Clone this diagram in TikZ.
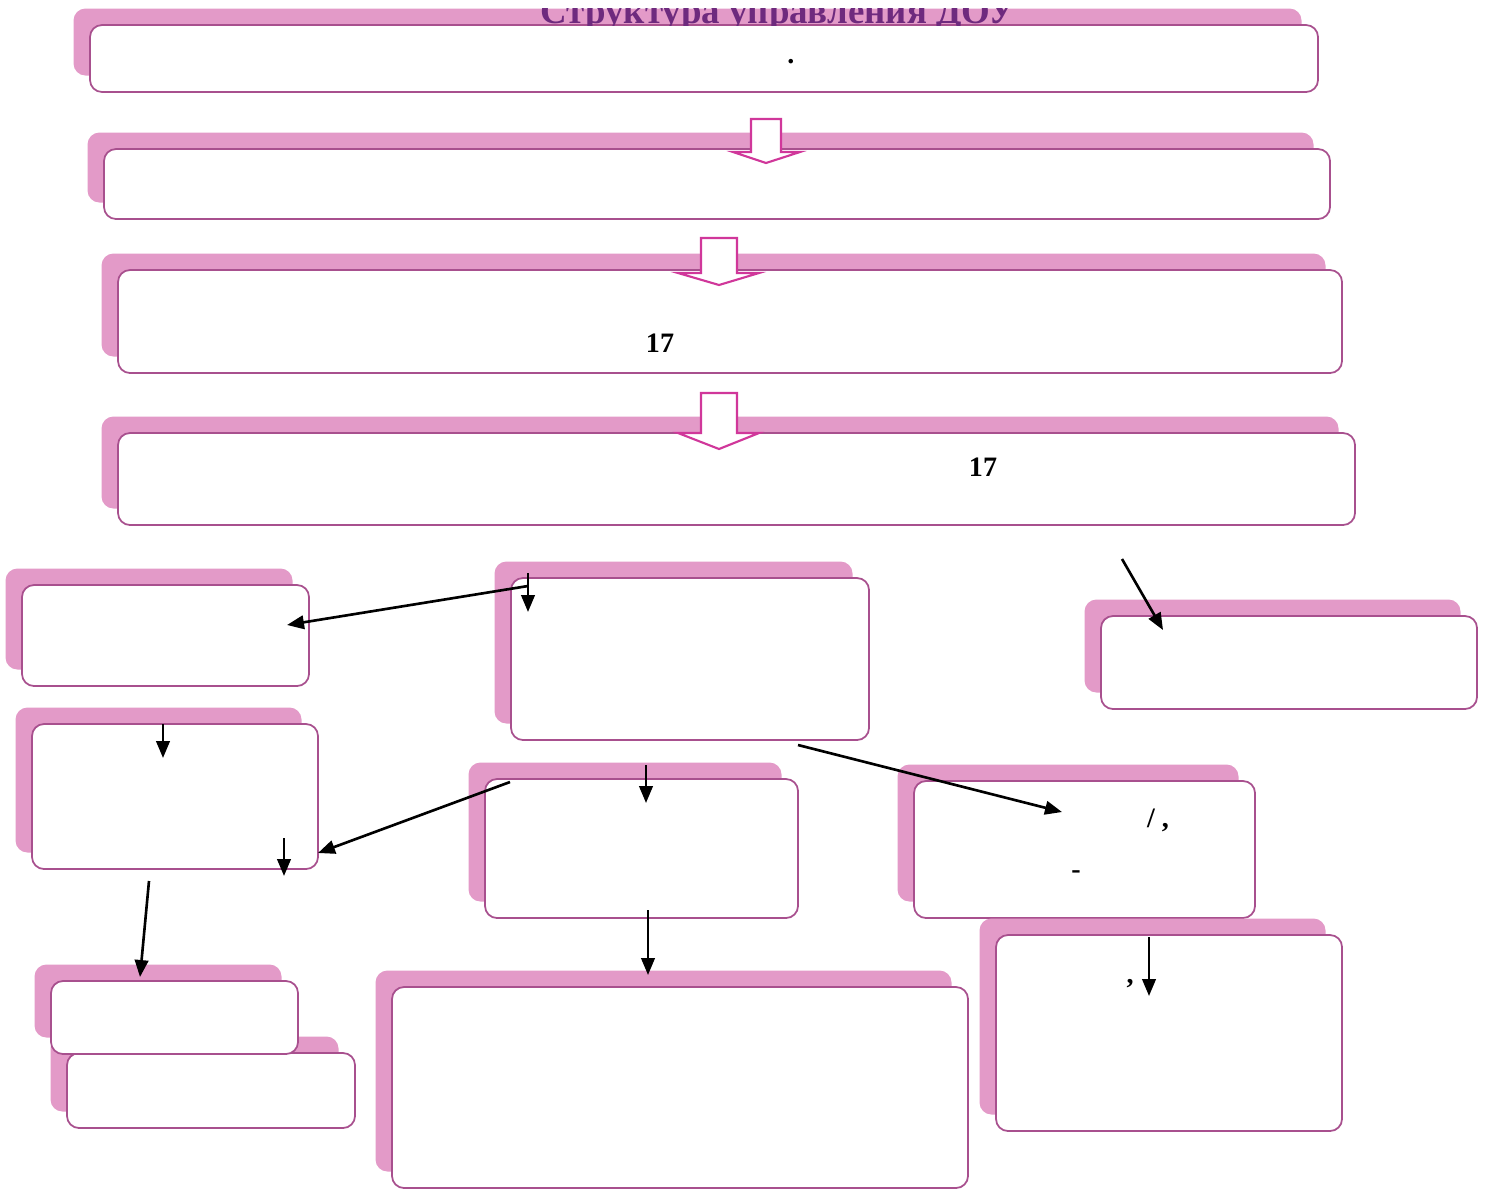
\documentclass[tikz,border=0pt]{standalone}
\usepackage{fontspec}
\setmainfont{Liberation Serif}
\usetikzlibrary{shadows,arrows.meta}
\definecolor{shpink}{HTML}{E39AC8}
\definecolor{edge}{HTML}{A8508E}
\definecolor{harrow}{HTML}{D0379A}
\definecolor{ttl}{HTML}{6E2A7E}
\tikzset{
 pbox/.style 2 args={draw=edge, line width=1pt, rounded corners=0.24cm, fill=white,
   minimum width=#1*0.02cm, minimum height=#2*0.02cm, inner sep=0pt,
   general shadow={fill=shpink, draw=none, shadow xshift=-0.33cm, shadow yshift=0.33cm}},
 conn/.style={line width=1.5pt, -{Triangle[length=0.34cm,width=0.27cm]}},
 hollow/.style={draw=harrow, line width=1.2pt, fill=white, line join=miter},
 lbl/.style={font=\fontsize{16}{18}\selectfont\bfseries, inner sep=0pt},
}
\begin{document}
\begin{tikzpicture}[x=0.02cm,y=-0.02cm]
\useasboundingbox[fill=white] (0,0) rectangle (1486,1194);
% main column
\node[pbox={1228}{67}] (b1) at (704,58.5) {};
\node[pbox={1226}{70}] (b2) at (717,184) {};
\node[pbox={1224}{103}] (b3) at (730,321.5) {};
\node[pbox={1237}{92}] (b4) at (736.5,479) {};
% title, half hidden as in the reference
\begin{scope}
\clip (0,8) rectangle (1486,25);
\node[font=\fontsize{21}{24}\selectfont\bfseries, text=ttl, anchor=base, inner sep=0pt] (title) at (778,23) {Структура управления ДОУ};
\end{scope}
% hollow arrows
\draw[hollow] (751,119) -- (781,119) -- (781,152) -- (800,152) -- (766,163) -- (733,152) -- (751,152) -- cycle;
\draw[hollow] (701,238) -- (737,238) -- (737,273) -- (759,273) -- (719,285) -- (678,273) -- (701,273) -- cycle;
\draw[hollow] (701,393) -- (737,393) -- (737,433) -- (759,433) -- (719,449) -- (678,433) -- (701,433) -- cycle;
% lower boxes
\node[pbox={287}{101}] (l1) at (165.5,635.5) {};
\node[pbox={358}{162}] (c1) at (690,659) {};
\node[pbox={376}{93}] (r1) at (1289,662.5) {};
\node[pbox={286}{145}] (l2) at (175,796.5) {};
\node[pbox={313}{139}] (c2) at (641.5,848.5) {};
\node[pbox={341}{137}] (r2) at (1084.5,849.5) {};
\node[pbox={288}{75}] (l4) at (211,1090.5) {};
\node[pbox={247}{73}] (l3) at (174.5,1017.5) {};
\node[pbox={576}{201}] (c3) at (680,1087.5) {};
\node[pbox={346}{196}] (r3) at (1169,1033) {};
% texts
\node[lbl] (t1) at (791,62) {.};
\node[lbl, anchor=base] (t2) at (660,352) {17};
\node[lbl, anchor=base] (t3) at (983,476) {17};
\node[lbl, anchor=base] (t4) at (1158,827) {/ ,};
\node[lbl] (t5) at (1076,875) {-};
\node[lbl, anchor=base] (t6) at (1130,983) {,};
% connector end points
\coordinate (p1) at (528,573);
\coordinate (p1e) at (528,612);
\coordinate (p2) at (528,586);
\coordinate (p2e) at (287,625);
\coordinate (p3) at (1122,559);
\coordinate (p3e) at (1163,630);
\coordinate (p4) at (163,724);
\coordinate (p4e) at (163,758);
\coordinate (p5) at (510,782);
\coordinate (p5e) at (318,853);
\coordinate (p6) at (284,838);
\coordinate (p6e) at (284,876);
\coordinate (p7) at (646,765);
\coordinate (p7e) at (646,803);
\coordinate (p8) at (798,745);
\coordinate (p8e) at (1062,812);
\coordinate (p9) at (149,881);
\coordinate (p9e) at (140,977);
\coordinate (p10) at (648,910);
\coordinate (p10e) at (648,975);
\coordinate (p11) at (1149,937);
\coordinate (p11e) at (1149,996);
\foreach \a/\b in {p1/p1e,p2/p2e,p3/p3e,p4/p4e,p5/p5e,p6/p6e,p7/p7e,p8/p8e,p9/p9e,p10/p10e,p11/p11e}
  \draw[conn] (\a) -- (\b);
\end{tikzpicture}
\end{document}
